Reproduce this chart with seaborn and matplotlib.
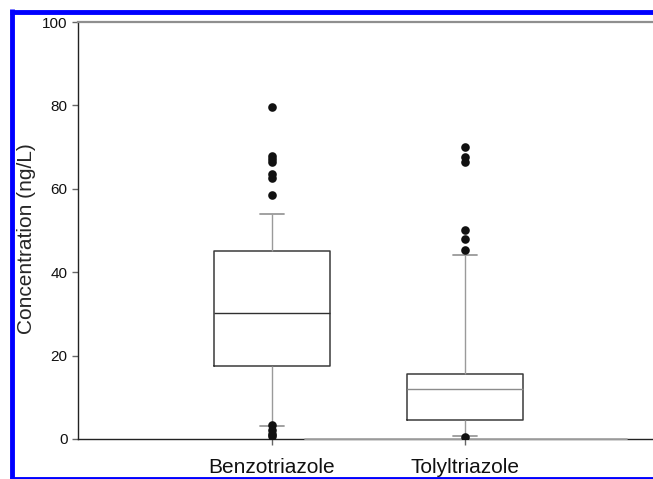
import matplotlib
matplotlib.use("Agg")
import matplotlib.pyplot as plt
from matplotlib.lines import Line2D
import numpy as np
import pandas as pd
import seaborn as sns

# Compound names on the category axis
compounds = ["Benzotriazole", "Tolyltriazole"]

# Box summaries (ng/L): lower whisker, Q1, median, Q3, upper whisker
benzotriazole_summary = [3.2, 17.5, 30.2, 45.1, 54.0]
tolyltriazole_summary = [0.8, 4.6, 12.0, 15.6, 44.2]

# Individual samples outside the whiskers (ng/L)
benzotriazole_outliers = [79.6, 67.8, 67.1, 66.4, 63.6, 62.7, 58.5, 3.4, 2.2, 1.2, 0.6]
tolyltriazole_outliers = [70.1, 67.7, 66.4, 50.1, 47.9, 45.3, 0.5]

y_ticks = [0, 20, 40, 60, 80, 100]
y_label = "Concentration (ng/L)"

sns.set_style("ticks")
plt.rcParams["font.family"] = ["Liberation Sans", "DejaVu Sans"]

summary_df = pd.DataFrame({
    "compound": [compounds[0]] * len(benzotriazole_summary) + [compounds[1]] * len(tolyltriazole_summary),
    "conc": benzotriazole_summary + tolyltriazole_summary,
})
outlier_df = pd.DataFrame({
    "compound": [compounds[0]] * len(benzotriazole_outliers) + [compounds[1]] * len(tolyltriazole_outliers),
    "conc": benzotriazole_outliers + tolyltriazole_outliers,
})

W, H = 653, 479
fig = plt.figure(figsize=(W / 100, H / 100), dpi=100)
ax_left, ax_right_px, ax_top, ax_bottom = 78, 720, 22, 439
ax_w = ax_right_px - ax_left
ax = fig.add_axes([ax_left / W, 1 - ax_bottom / H, ax_w / W, (ax_bottom - ax_top) / H])

box_edge = "#3a3a3a"
whisk = "#9a9a9a"
# the five summary values give quartiles exactly; whiskers span their extremes
sns.boxplot(
    data=summary_df, x="compound", y="conc", order=compounds, ax=ax,
    whis=(0, 100), showfliers=False, width=0.6, fill=False, color=box_edge,
    linewidth=1.1,
    boxprops=dict(color=box_edge, linewidth=1.1),
    medianprops=dict(color="#303030", linewidth=1.0),
    whiskerprops=dict(color=whisk, linewidth=1.0),
    capprops=dict(color=whisk, linewidth=1.3),
    capwidths=0.125,
)
sns.stripplot(
    data=outlier_df, x="compound", y="conc", order=compounds, ax=ax,
    jitter=False, color="#111111", size=6.2, linewidth=0, zorder=5,
)

# lighter median line on the second box
for cont in ax.containers:
    if hasattr(cont, "medians") and len(cont.medians) > 1:
        cont.medians[1].set_color("#8c8c8c")

x0 = -1.005
x1 = x0 + ax_w / 193.0
ax.set_xlim(x0, x1)
ax.set_ylim(0, 100)
ax.set_yticks(y_ticks)
ax.set_xlabel("")
ax.set_ylabel(y_label, fontsize=15)
ax.yaxis.set_label_coords((36 - ax_left) / ax_w, (ax_bottom - 239) / (ax_bottom - ax_top))

ax.tick_params(axis="y", direction="out", length=4.5, width=1, color="#666666",
               labelsize=11, pad=3, labelcolor="#111111")
ax.tick_params(axis="x", direction="out", length=4.5, width=1, color="#666666",
               labelsize=15, pad=9, labelcolor="#111111")

for side in ["left", "bottom"]:
    ax.spines[side].set_color("#222222")
    ax.spines[side].set_linewidth(1.0)
ax.spines["top"].set_color("#8f8f8f")
ax.spines["top"].set_linewidth(1.6)
ax.spines["right"].set_visible(False)

# grey stretch of the baseline
ax.axhline(0, xmin=(305 - ax_left) / ax_w, xmax=(627 - ax_left) / ax_w,
           color="#a8a8a8", linewidth=1.3, zorder=3, clip_on=False)

# blue page frame: left, top and bottom edges
frame_kw = dict(transform=fig.transFigure, color="#0000ff", linewidth=3.5,
                solid_capstyle="butt", zorder=10)
fx, fy_top, fy_bot = 12.5 / W, 1 - 11.5 / H, 0.5 / H
fig.add_artist(Line2D([fx, fx], [0, fy_top + 2.4 / H], **frame_kw))
fig.add_artist(Line2D([fx - 2.4 / W, 1.0], [fy_top, fy_top], **frame_kw))
fig.add_artist(Line2D([fx - 2.4 / W, 1.0], [fy_bot, fy_bot], **frame_kw))

fig.savefig("out.png", dpi=100)
